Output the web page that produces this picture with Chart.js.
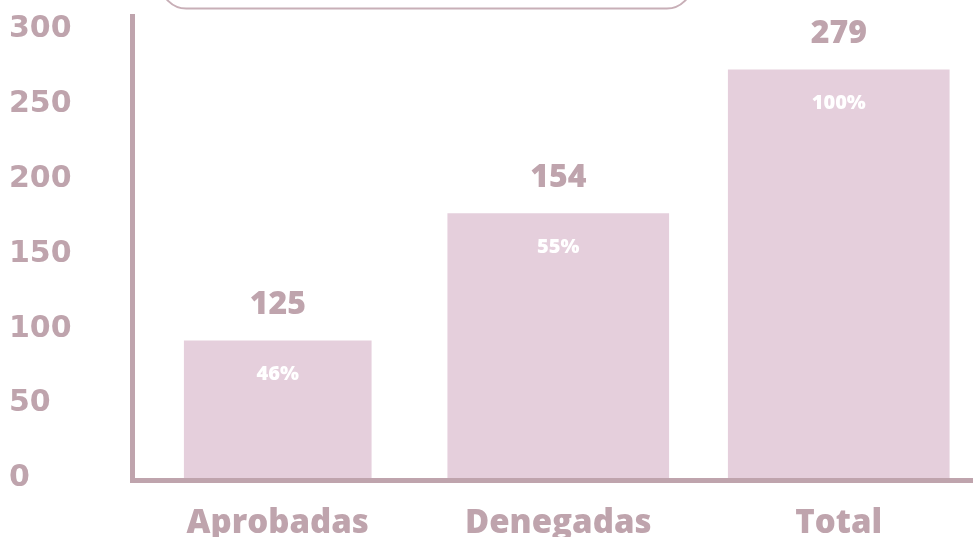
<!DOCTYPE html>
<html>
<head>
<meta charset="utf-8">
<script src="https://cdn.jsdelivr.net/npm/chart.js@4/dist/chart.umd.min.js"></script>
<style>
  html, body { margin: 0; padding: 0; background: #ffffff; overflow: hidden; }
  #wrap { width: 973px; height: 537px; position: relative; }
</style>
</head>
<body>
<div id="wrap"><canvas id="chart"></canvas></div>
<script>
// ---- data ----
const categories  = ['Aprobadas', 'Denegadas', 'Total'];
const barValues   = [93, 178, 274];          // bar heights as drawn against the axis
const valueLabels = ['125', '154', '279'];   // numbers printed above the bars
const shareLabels = ['46%', '55%', '100%'];  // percentages printed inside the bars
const yTickValues = [0, 50, 100, 150, 200, 250, 300];

// ---- styling ----
const AXIS_COLOR = '#bfa4ad';
const BAR_COLOR  = '#e5cfdc';
const LABEL_FONT = '"Open Sans", "Noto Sans", sans-serif';

// first bar is narrower than the other two
const narrowData = categories.map((c, i) => (i === 0 ? barValues[i] : null));
const wideData   = categories.map((c, i) => (i === 0 ? null : barValues[i]));

const frameBox = {
  id: 'frameBox',
  beforeDraw(chart) {
    const ctx = chart.ctx;
    ctx.save();
    ctx.strokeStyle = '#c8afb7';
    ctx.lineWidth = 2;
    ctx.beginPath();
    ctx.roundRect(161, -42, 531, 50.5, 30);
    ctx.stroke();
    ctx.restore();
  }
};

// category band starts a little right of the y-axis line and runs past the right edge;
// the axis line itself stays where the layout put it
const shiftCategoryBand = {
  id: 'shiftCategoryBand',
  afterLayout(chart) {
    const x = chart.scales.x;
    const L = x.left, R = x.right, W = x.width;
    x.left = L + 5.5;
    x.right = R + 6;
    x.width = x.right - x.left;
    x.configure();
    x.left = L; x.right = R; x.width = W;
  }
};

const barText = {
  id: 'barText',
  afterDatasetsDraw(chart) {
    const ctx = chart.ctx;
    ctx.save();
    ctx.textAlign = 'center';
    ctx.textBaseline = 'alphabetic';
    chart.data.datasets.forEach((ds, di) => {
      const meta = chart.getDatasetMeta(di);
      meta.data.forEach((el, i) => {
        if (ds.data[i] === null || ds.data[i] === undefined) return;
        ctx.fillStyle = AXIS_COLOR;
        ctx.font = '800 32px ' + LABEL_FONT;
        ctx.fillText(valueLabels[i], el.x, el.y - 27);
        ctx.fillStyle = '#ffffff';
        ctx.font = '800 20px ' + LABEL_FONT;
        ctx.fillText(shareLabels[i], el.x, el.y + 39);
      });
    });
    ctx.restore();
  }
};

new Chart(document.getElementById('chart'), {
  type: 'bar',
  data: {
    labels: categories,
    datasets: [
      { data: narrowData, backgroundColor: BAR_COLOR, borderWidth: 0, barThickness: 187 },
      { data: wideData,   backgroundColor: BAR_COLOR, borderWidth: 0, barThickness: 221 }
    ]
  },
  options: {
    responsive: true,
    maintainAspectRatio: false,
    animation: false,
    datasets: { bar: { grouped: false } },
    layout: { padding: { left: 9, right: 0, top: 16.5, bottom: 0 } },
    plugins: { legend: { display: false }, tooltip: { enabled: false }, title: { display: false } },
    scales: {
      x: {
        offset: true,
        grid: { display: false, drawTicks: false },
        border: { display: true, color: AXIS_COLOR, width: 5, z: 1 },
        ticks: {
          color: AXIS_COLOR,
          padding: 24,
          maxRotation: 0,
          font: { family: LABEL_FONT, size: 33, weight: '800' }
        },
        afterFit(scale) { scale.height = 57; scale.paddingLeft = 0; scale.paddingRight = 0; }
      },
      y: {
        min: 0,
        max: 309.7,
        grid: { display: false, drawTicks: false },
        border: { display: true, color: AXIS_COLOR, width: 5, z: 1 },
        afterBuildTicks(scale) { scale.ticks = yTickValues.map(v => ({ value: v })); },
        ticks: {
          color: AXIS_COLOR,
          crossAlign: 'far',
          labelOffset: -1.5,
          font: { family: '"DejaVu Sans", sans-serif', size: 30, weight: '700' }
        },
        afterFit(scale) { scale.width = 123; scale.paddingTop = 0; scale.paddingBottom = 0; }
      }
    }
  },
  plugins: [frameBox, shiftCategoryBand, barText]
});
</script>
</body>
</html>
